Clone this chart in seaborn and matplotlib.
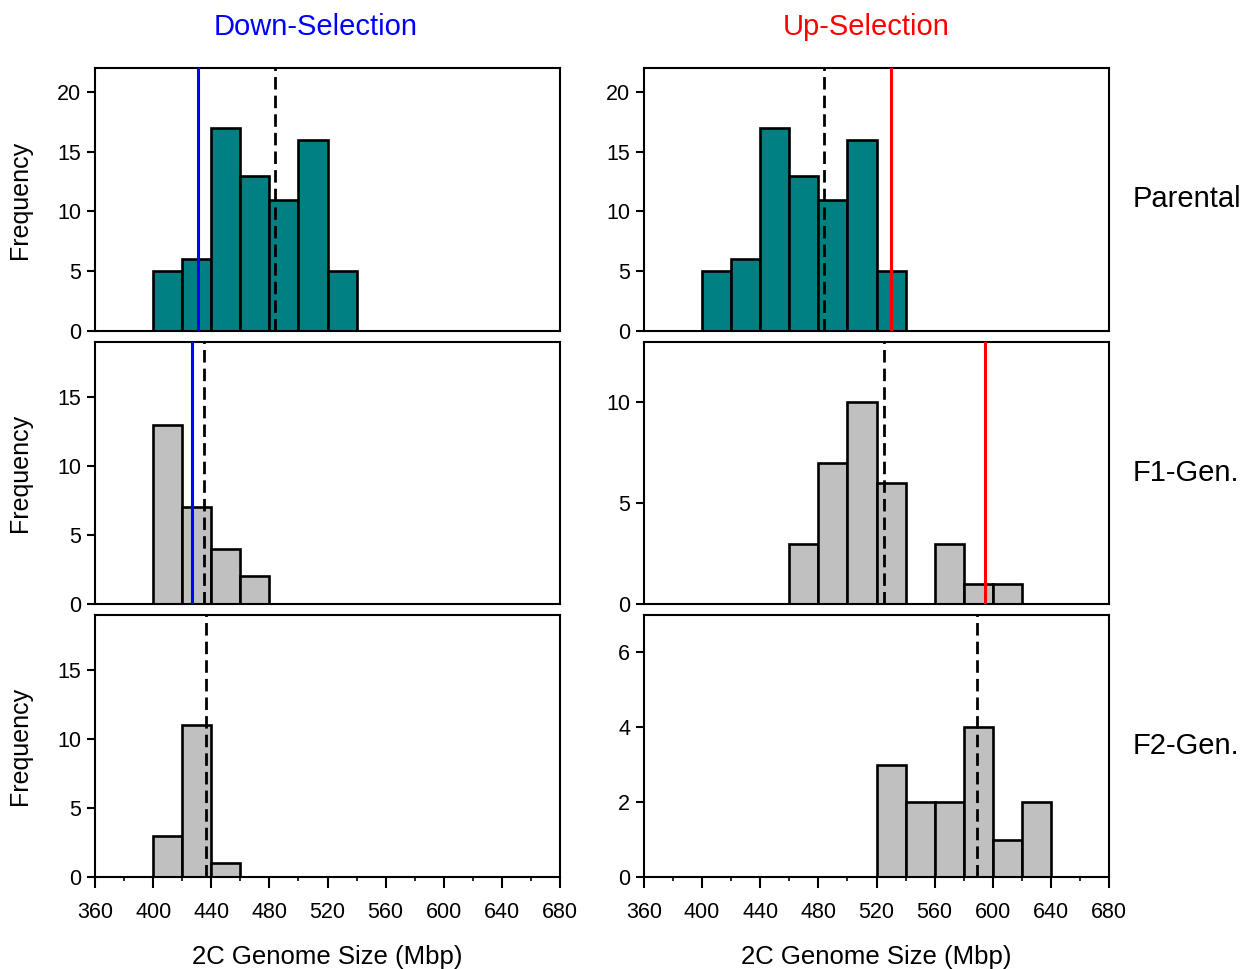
import matplotlib
matplotlib.use("Agg")
import matplotlib.pyplot as plt
import numpy as np
import seaborn as sns
from matplotlib.ticker import MultipleLocator

# bin edges are 20 Mbp wide
bin_edges = list(range(400, 660, 20))

# counts per bin, starting at 400 Mbp
parental_counts = [5, 6, 17, 13, 11, 16, 5]
down_f1_counts = [13, 7, 4, 2]
down_f2_counts = [3, 11, 1]
up_f1_counts = [0, 0, 0, 3, 7, 10, 6, 0, 3, 1, 1]
up_f2_counts = [0, 0, 0, 0, 0, 0, 3, 2, 2, 4, 1, 2]

# mean (dashed) and selection threshold (solid) lines
parental_mean = 484
down_threshold = 431
up_threshold = 530
down_f1_mean = 435
down_f1_threshold = 427
down_f2_mean = 436.5
up_f1_mean = 525.5
up_f1_threshold = 595
up_f2_mean = 589

col_titles = ["Down-Selection", "Up-Selection"]
row_titles = ["Parental", "F1-Gen.", "F2-Gen."]
xlabel = "2C Genome Size (Mbp)"

sns.set_style("ticks")
plt.rcParams["font.family"] = ["Liberation Sans", "DejaVu Sans"]
plt.rcParams["text.color"] = "black"
plt.rcParams["axes.labelcolor"] = "black"
plt.rcParams["xtick.color"] = "black"
plt.rcParams["ytick.color"] = "black"
plt.rcParams["axes.edgecolor"] = "black"

fig = plt.figure(figsize=(12.45, 9.69), dpi=100)

W, H = 1245, 969
col_x = [95, 644]
row_y = [(68, 331), (342, 604), (615, 877)]
axw = 465


def hist(ax, counts, color):
    lefts = [e for e, c in zip(bin_edges, counts) if c > 0]
    weights = [c for c in counts if c > 0]
    edges = bin_edges[: len(counts) + 1]
    sns.histplot(x=lefts, weights=weights, bins=edges, ax=ax, color=color,
                 edgecolor="black", linewidth=1.9, alpha=1)


panels = [
    [(parental_counts, "#008080", [(parental_mean, "k", "--"), (down_threshold, "#0000ff", "-")], 22, 5),
     (parental_counts, "#008080", [(parental_mean, "k", "--"), (up_threshold, "#ff0000", "-")], 22, 5)],
    [(down_f1_counts, "#c0c0c0", [(down_f1_mean, "k", "--"), (down_f1_threshold, "#0000ff", "-")], 19, 5),
     (up_f1_counts, "#c0c0c0", [(up_f1_mean, "k", "--"), (up_f1_threshold, "#ff0000", "-")], 13, 5)],
    [(down_f2_counts, "#c0c0c0", [(down_f2_mean, "k", "--")], 19, 5),
     (up_f2_counts, "#c0c0c0", [(up_f2_mean, "k", "--")], 7, 2)],
]

for r in range(3):
    for c in range(2):
        counts, color, lines, ymax, ystep = panels[r][c]
        y0, y1 = row_y[r]
        ax = fig.add_axes([col_x[c] / W, 1 - y1 / H, axw / W, (y1 - y0) / H])
        hist(ax, counts, color)
        for xv, lc, ls in lines:
            if ls == "--":
                ax.axvline(xv, color=lc, linestyle=ls, linewidth=2, dashes=(4.5, 2.2), zorder=5)
            else:
                ax.axvline(xv, color=lc, linestyle=ls, linewidth=2.2, zorder=5)
        ax.set_xlim(360, 680)
        ax.set_ylim(0, ymax)
        ax.yaxis.set_major_locator(MultipleLocator(ystep))
        ax.xaxis.set_major_locator(MultipleLocator(40))
        ax.xaxis.set_minor_locator(MultipleLocator(20))
        for s in ax.spines.values():
            s.set_linewidth(1.5)
            s.set_visible(True)
        ax.tick_params(axis="y", length=6, width=1.5, labelsize=15.5, pad=4)
        ax.tick_params(axis="x", which="major", length=8, width=1.5, labelsize=15.5, pad=10)
        ax.tick_params(axis="x", which="minor", length=3, width=1.2)
        if r < 2:
            ax.tick_params(axis="x", which="both", bottom=False, labelbottom=False)
            ax.set_xlabel("")
        else:
            ax.set_xlabel(xlabel, fontsize=18.5, labelpad=16)
        if c == 0:
            ax.set_ylabel("Frequency", fontsize=18)
            ax.yaxis.set_label_coords(-0.135, 0.5)
        else:
            ax.set_ylabel("")

fig.text(316 / W, 1 - 27 / H, col_titles[0], color="#0000ff", fontsize=21, ha="center", va="center")
fig.text(866 / W, 1 - 27 / H, col_titles[1], color="#ff0000", fontsize=21, ha="center", va="center")
for r in range(3):
    y0, y1 = row_y[r]
    fig.text(1133 / W, 1 - (y0 + y1) / 2 / H, row_titles[r], fontsize=21, ha="left", va="center")

fig.savefig("out.png", dpi=100)
